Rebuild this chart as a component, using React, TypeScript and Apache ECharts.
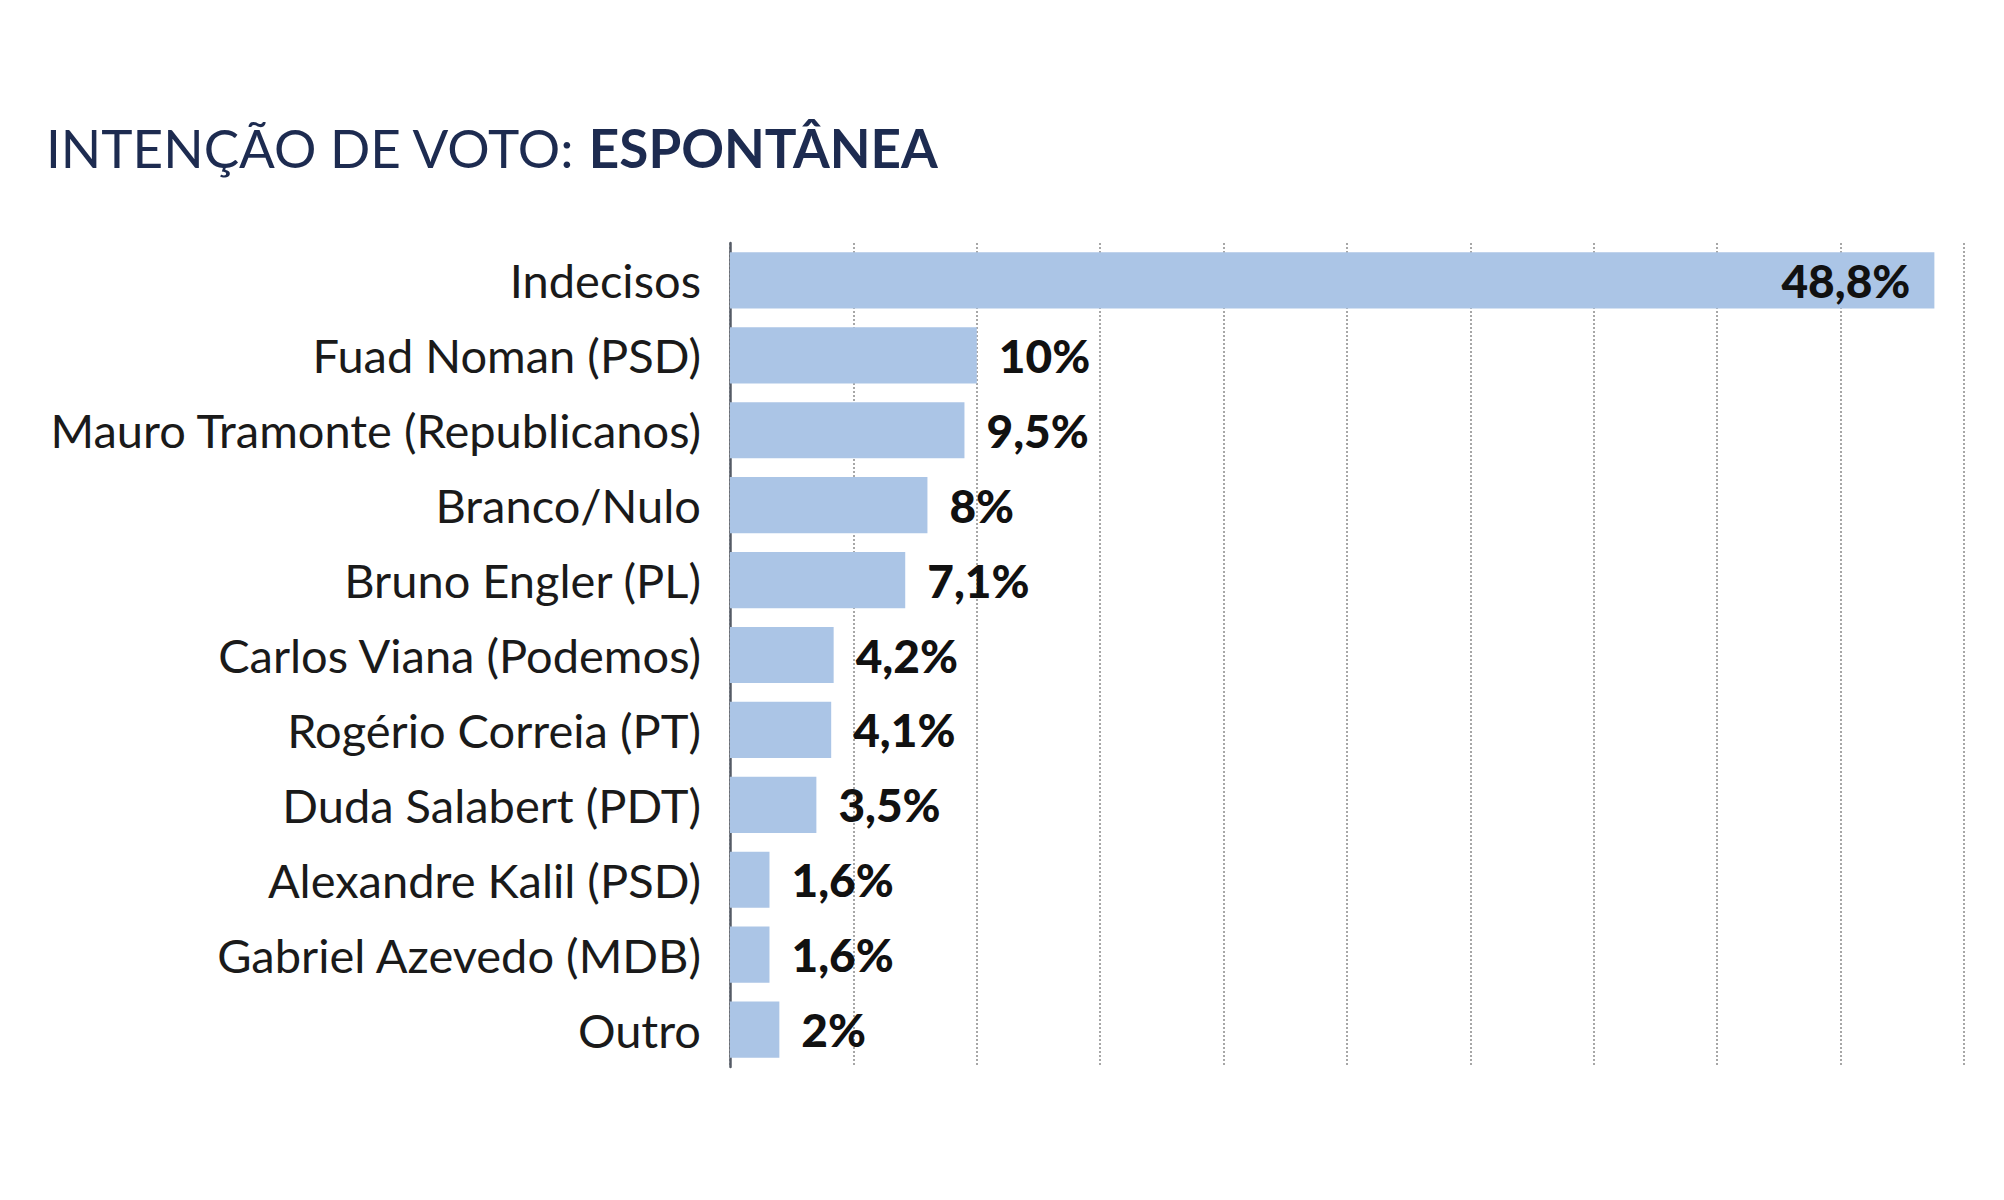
import React, { useEffect, useRef } from "react";
import * as echarts from "echarts";

const categories = [
  "Indecisos",
  "Fuad Noman (PSD)",
  "Mauro Tramonte (Republicanos)",
  "Branco/Nulo",
  "Bruno Engler (PL)",
  "Carlos Viana (Podemos)",
  "Rogério Correia (PT)",
  "Duda Salabert (PDT)",
  "Alexandre Kalil (PSD)",
  "Gabriel Azevedo (MDB)",
  "Outro",
];
const values = [48.8, 10, 9.5, 8, 7.1, 4.2, 4.1, 3.5, 1.6, 1.6, 2];

const fmt = (v: number) => String(v).replace(".", ",") + "%";

export default function App() {
  const ref = useRef<HTMLDivElement>(null);
  useEffect(() => {
    const chart = echarts.init(ref.current!, null, { renderer: "svg" });
    chart.setOption({
      animation: false,
      backgroundColor: "#ffffff",
      title: {
        left: 33,
        top: 108,
        text: "{a|INTENÇÃO DE VOTO: }{b|ESPONTÂNEA}",
        textStyle: {
          rich: {
            a: { fontFamily: "Lato", fontSize: 53, color: "#1d2b50", fontWeight: "normal" },
            b: { fontFamily: "Lato", fontSize: 53, color: "#1d2b50", fontWeight: "bold" },
          },
        },
      },
      grid: { left: 722, right: 32, top: 235, bottom: 125, containLabel: false },
      xAxis: {
        type: "value",
        min: 0,
        max: 50,
        interval: 5,
        axisLabel: { show: false },
        axisLine: { show: false },
        axisTick: { show: false },
        splitLine: { show: true, lineStyle: { type: [2, 2], color: "#8a8a8a", width: 1.5 } },
      },
      yAxis: {
        type: "category",
        inverse: true,
        data: categories,
        axisLine: { show: true, lineStyle: { color: "#555b66", width: 2.5 } },
        axisTick: { show: false },
        axisLabel: {
          fontFamily: "Lato",
          fontSize: 47,
          color: "#1a1a1a",
          margin: 29,
        },
      },
      series: [
        {
          type: "bar",
          data: values.map((v, i) => ({
            value: v,
            label:
              i === 0
                ? { position: "insideRight", distance: 24 }
                : { position: "right", distance: 22 },
          })),
          barWidth: "75%",
          itemStyle: { color: "#abc5e6" },
          label: {
            show: true,
            formatter: (p: any) => fmt(p.value),
            fontFamily: "Lato",
            fontWeight: 900,
            fontSize: 46,
            color: "#111111",
          },
        },
      ],
    });
    return () => chart.dispose();
  }, []);
  return <div ref={ref} style={{ width: 1988, height: 1184 }} />;
}
